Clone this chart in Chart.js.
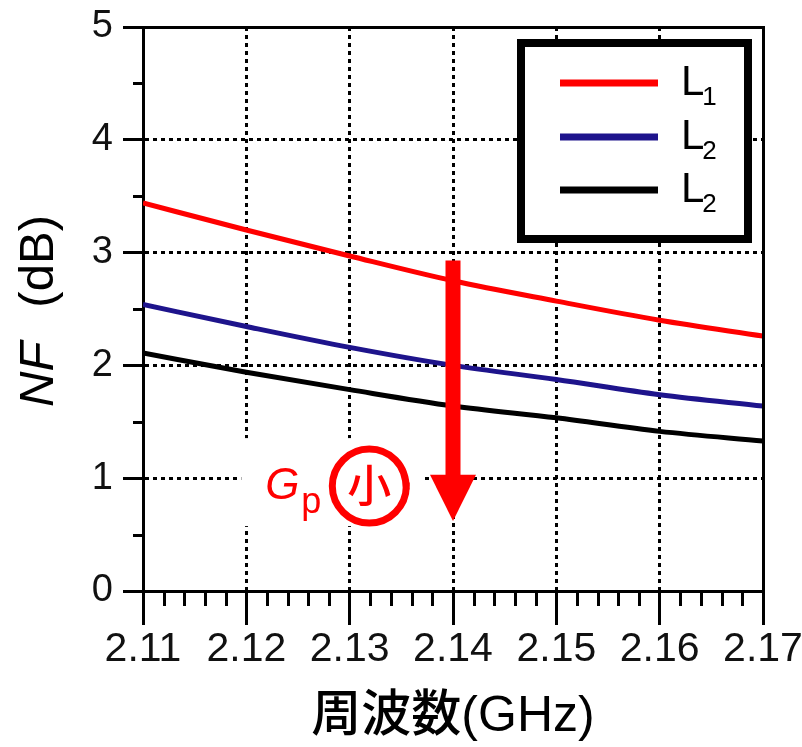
<!DOCTYPE html>
<html>
<head>
<meta charset="utf-8">
<script src="https://cdn.jsdelivr.net/npm/chart.js@4.4.1/dist/chart.umd.min.js"></script>
<style>
  html, body { margin: 0; padding: 0; background: #fff; }
  canvas { display: block; }
</style>
</head>
<body>
<canvas id="nf" width="802" height="747"></canvas>
<script>
// Frequency sweep (GHz) and noise figure (dB) for each inductor case
const freqGHz = [2.11, 2.12, 2.13, 2.14, 2.15, 2.16, 2.17];
const nfL1    = [3.44, 3.20, 2.97, 2.75, 2.57, 2.40, 2.26];
const nfL2    = [2.54, 2.345, 2.16, 2.00, 1.875, 1.74, 1.64];
const nfL2b   = [2.11, 1.94, 1.785, 1.64, 1.535, 1.415, 1.33];
const seriesNames = ['L1', 'L2', 'L2'];
const seriesColors = ['#ff0000', '#1e148c', '#000000'];

const xTickValues = [2.11, 2.12, 2.13, 2.14, 2.15, 2.16, 2.17];
const yTickValues = [0, 1, 2, 3, 4, 5];
const xMinorStep = 0.002;
const yMinorStep = 0.5;

// Arrow: NF drops as Gp gets smaller
const arrowFreq = 2.14;
const arrowFromNF = 2.93;
const arrowHeadNF = 1.03;
const arrowToNF = 0.62;
// Anchor of the "Gp 小" note (centre of the circled character)
const noteFreq = 2.1319;
const noteNF = 0.93;

const LATIN = "'Liberation Sans', Arial, sans-serif";
const CJK = "'Liberation Sans', 'Noto Sans CJK JP', sans-serif";
Chart.defaults.font.family = LATIN;
Chart.defaults.color = '#111';

const series = [nfL1, nfL2, nfL2b];
const datasets = series.map((vals, i) => ({
  label: seriesNames[i],
  data: freqGHz.map((f, k) => ({ x: f, y: vals[k] })),
  borderColor: seriesColors[i],
  backgroundColor: seriesColors[i],
  borderWidth: 5,
  pointRadius: 0,
  cubicInterpolationMode: 'monotone',
  fill: false
}));

const frameAndNotes = {
  id: 'frameAndNotes',
  afterDatasetsDraw(chart) {
    const { ctx, chartArea: a, scales: { x, y } } = chart;
    ctx.save();

    // white backing so the grid stops around the note
    ctx.fillStyle = '#fff';
    const cx = x.getPixelForValue(noteFreq);
    const cy = y.getPixelForValue(noteNF);
    ctx.fillRect(cx - 128, cy - 48, 183, 88);

    // minor ticks
    ctx.strokeStyle = '#000';
    ctx.lineWidth = 3;
    ctx.lineCap = 'butt';
    ctx.beginPath();
    for (let k = 1; k * yMinorStep < yTickValues[yTickValues.length - 1]; k++) {
      if (k % 2 === 0) continue;
      const py = Math.round(y.getPixelForValue(k * yMinorStep)) + 0.5;
      ctx.moveTo(a.left - 10, py);
      ctx.lineTo(a.left, py);
    }
    const nx = Math.round((xTickValues[xTickValues.length - 1] - xTickValues[0]) / xMinorStep);
    for (let k = 1; k < nx; k++) {
      if (k % 5 === 0) continue;
      const px = Math.round(x.getPixelForValue(xTickValues[0] + k * xMinorStep)) + 0.5;
      ctx.moveTo(px, a.bottom);
      ctx.lineTo(px, a.bottom + 15);
    }
    ctx.stroke();

    // top and right frame
    ctx.lineCap = 'square';
    ctx.beginPath();
    ctx.moveTo(a.left, a.top + 0.5);
    ctx.lineTo(a.right + 0.5, a.top + 0.5);
    ctx.lineTo(a.right + 0.5, a.bottom);
    ctx.stroke();

    // arrow
    const ax = x.getPixelForValue(arrowFreq);
    const yTop = y.getPixelForValue(arrowFromNF);
    const yHead = y.getPixelForValue(arrowHeadNF);
    const yTip = y.getPixelForValue(arrowToNF);
    ctx.fillStyle = '#ff0000';
    ctx.fillRect(ax - 7.5, yTop, 15, yHead - yTop + 1);
    ctx.beginPath();
    ctx.moveTo(ax - 23, yHead);
    ctx.lineTo(ax + 23, yHead);
    ctx.lineTo(ax, yTip);
    ctx.closePath();
    ctx.fill();

    // Gp note with circled 小
    ctx.textAlign = 'left';
    ctx.textBaseline = 'alphabetic';
    ctx.font = 'italic 44px ' + LATIN;
    ctx.fillText('G', cx - 104, cy + 13);
    ctx.font = '36px ' + LATIN;
    ctx.fillText('p', cx - 68, cy + 27);
    ctx.strokeStyle = '#ff0000';
    ctx.lineWidth = 7;
    ctx.beginPath();
    ctx.arc(cx, cy, 37, 0, Math.PI * 2);
    ctx.stroke();
    ctx.font = "500 44px 'Noto Sans CJK JP', sans-serif";
    ctx.textAlign = 'center';
    ctx.textBaseline = 'middle';
    ctx.fillText('小', cx, cy - 1);

    // legend box
    const bx = a.right - 242, by = a.top + 16, bw = 227, bh = 196;
    ctx.fillStyle = '#fff';
    ctx.fillRect(bx, by, bw, bh);
    ctx.strokeStyle = '#000';
    ctx.lineWidth = 8;
    ctx.lineCap = 'butt';
    ctx.strokeRect(bx, by, bw, bh);
    const rowY = [by + 40, by + 94, by + 147];
    chart.data.datasets.forEach((ds, i) => {
      ctx.strokeStyle = ds.borderColor;
      ctx.lineWidth = 7;
      ctx.beginPath();
      ctx.moveTo(bx + 39, rowY[i]);
      ctx.lineTo(bx + 137, rowY[i]);
      ctx.stroke();
      ctx.fillStyle = '#000';
      ctx.textAlign = 'left';
      ctx.textBaseline = 'alphabetic';
      ctx.font = '42px ' + LATIN;
      const base = ds.label.charAt(0);
      ctx.fillText(base, bx + 160, rowY[i] + 12);
      const w = ctx.measureText(base).width;
      ctx.font = '26px ' + LATIN;
      ctx.fillText(ds.label.slice(1), bx + 160 + w - 2, rowY[i] + 22);
    });

    // y-axis title: italic NF followed by (dB)
    ctx.save();
    const tx = 53;
    const tyc = (a.top + a.bottom) / 2 + 2;
    ctx.translate(tx, tyc);
    ctx.rotate(-Math.PI / 2);
    ctx.fillStyle = '#000';
    ctx.textAlign = 'left';
    ctx.textBaseline = 'alphabetic';
    ctx.font = 'italic 49px ' + LATIN;
    const wNF = ctx.measureText('NF').width;
    ctx.font = '49px ' + LATIN;
    const wDB = ctx.measureText('(dB)').width;
    const gap = 34;
    const start = -(wNF + gap + wDB) / 2;
    ctx.font = 'italic 49px ' + LATIN;
    ctx.fillText('NF', start, 0);
    ctx.font = '49px ' + LATIN;
    ctx.fillText('(dB)', start + wNF + gap, 0);
    ctx.restore();

    ctx.restore();
  }
};

new Chart(document.getElementById('nf'), {
  type: 'line',
  data: { datasets },
  options: {
    responsive: false,
    animation: false,
    devicePixelRatio: 1,
    layout: { padding: { left: 0, right: 39, top: 27, bottom: 0 } },
    plugins: { legend: { display: false }, tooltip: { enabled: false } },
    scales: {
      x: {
        type: 'linear',
        min: xTickValues[0],
        max: xTickValues[xTickValues.length - 1],
        afterBuildTicks: s => { s.ticks = xTickValues.map(v => ({ value: v })); },
        afterFit: s => { s.height = 156; s.paddingLeft = 0; s.paddingRight = 0; },
        ticks: {
          callback: v => Number(v).toFixed(2),
          font: { size: 41 },
          color: '#111',
          padding: 0,
          maxRotation: 0,
          autoSkip: false
        },
        grid: {
          color: '#000',
          lineWidth: 3,
          tickColor: '#000',
          tickWidth: 3,
          tickLength: 34,
          tickBorderDash: []
        },
        border: { display: true, color: '#000', width: 3, dash: [4, 4] },
        title: {
          display: true,
          text: '周波数(GHz)',
          font: { size: 50, family: CJK, weight: 500 },
          color: '#000',
          padding: { top: 0, bottom: 0 }
        }
      },
      y: {
        min: yTickValues[0],
        max: yTickValues[yTickValues.length - 1],
        afterBuildTicks: s => { s.ticks = yTickValues.map(v => ({ value: v })); },
        afterFit: s => { s.width = 143; s.paddingTop = 0; s.paddingBottom = 0; },
        ticks: {
          font: { size: 38 },
          color: '#111',
          padding: 10
        },
        grid: {
          color: '#000',
          lineWidth: 3,
          tickColor: '#000',
          tickWidth: 3,
          tickLength: 20,
          tickBorderDash: []
        },
        border: { display: true, color: '#000', width: 3, dash: [4, 4] }
      }
    }
  },
  plugins: [frameAndNotes]
});
</script>
</body>
</html>
